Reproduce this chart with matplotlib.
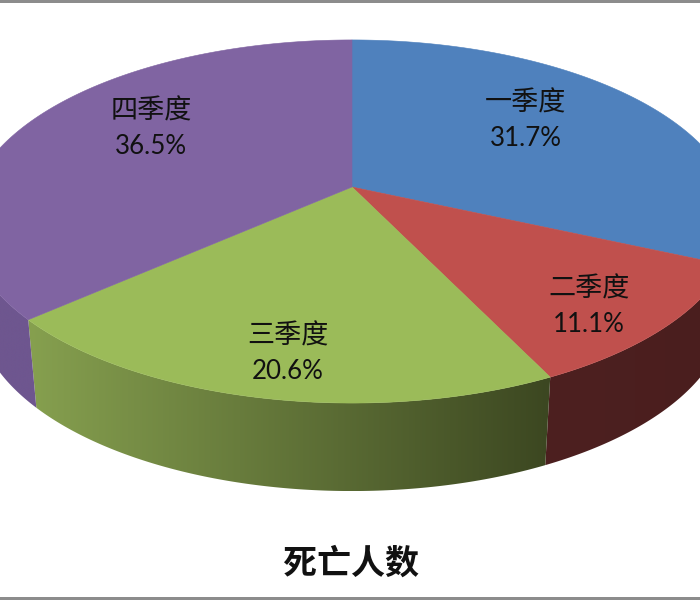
import numpy as np
import matplotlib
matplotlib.use("Agg")
import matplotlib.pyplot as plt
from matplotlib.patches import Polygon, Rectangle
from matplotlib.colors import LinearSegmentedColormap

# Data
categories = ["一季度", "二季度", "三季度", "四季度"]
values = [31.7, 11.1, 20.6, 36.5]
title = "死亡人数"

# Style
top_colors = ["#4F81BD", "#C0504D", "#9BBB59", "#8064A2"]
side_left = ["#2B4A70", "#4D2020", "#86A04F", "#6E568F"]
side_right = ["#2B4A70", "#4A1E1E", "#3C4721", "#6E568F"]
label_pos = [(526, 121), (589, 306.5), (288, 353.5), (151, 128.5)]
FONT = ["Lato", "Noto Sans CJK SC"]

CX, CY, RX, RY, K = 352.0, 187.0, 378.0, 175.0, 0.19
DEPTH, SHRINK = 88.0, 0.975


def project(theta):
    u, v = np.sin(theta), np.cos(theta)
    d = 1 + K * v
    return CX + RX * u / d, CY - RY * v / d


def lower(x, y):
    return CX + (x - CX) * SHRINK, y + DEPTH


fig = plt.figure(figsize=(7, 6), dpi=100)
ax = fig.add_axes([0, 0, 1, 1])
ax.set_xlim(0, 700)
ax.set_ylim(600, 0)
ax.axis("off")

fractions = np.array(values) / sum(values)
edges = np.concatenate([[0], np.cumsum(fractions)]) * 2 * np.pi

# Side walls
for i in range(len(values)):
    a0, a1 = edges[i], edges[i + 1]
    lo, hi = max(a0, np.pi / 2), min(a1, 3 * np.pi / 2)
    if lo >= hi:
        continue
    t = np.linspace(lo, hi, 120)
    x, y = project(t)
    xl, yl = lower(x, y)
    pts = np.r_[np.c_[x, y], np.c_[xl, yl][::-1]]
    poly = Polygon(pts, closed=True, fc="none", ec="none")
    ax.add_patch(poly)
    cmap = LinearSegmentedColormap.from_list("s", [side_left[i], side_right[i]])
    im = ax.imshow(np.linspace(0, 1, 256)[None, :], cmap=cmap, aspect="auto",
                   extent=(pts[:, 0].min(), pts[:, 0].max(),
                           pts[:, 1].max(), pts[:, 1].min()), zorder=2)
    im.set_clip_path(poly)
ax.set_xlim(0, 700)
ax.set_ylim(600, 0)

# Top faces
for i in range(len(values)):
    t = np.linspace(edges[i], edges[i + 1], 200)
    x, y = project(t)
    pts = np.r_[[[CX, CY]], np.c_[x, y]]
    ax.add_patch(Polygon(pts, closed=True, fc=top_colors[i], ec=top_colors[i],
                         lw=0.4, zorder=3))

# Labels
for name, val, (lx, ly) in zip(categories, values, label_pos):
    ax.text(lx, ly - 18, name, ha="center", va="center", fontsize=19.5,
            color="#111111", family=FONT, zorder=5)
    ax.text(lx, ly + 18, f"{val:.1f}%", ha="center", va="center", fontsize=18.6,
            color="#111111", family=FONT, zorder=5)

ax.text(351, 563, title, ha="center", va="center", fontsize=24.5, fontweight="bold",
        color="#111111", family=FONT, zorder=5)

# Frame strips
ax.add_patch(Rectangle((0, 0), 700, 2.5, fc="#8C8C8C", ec="none", zorder=6))
ax.add_patch(Rectangle((0, 597), 700, 3, fc="#8C8C8C", ec="none", zorder=6))

fig.savefig("out.png", dpi=100)
